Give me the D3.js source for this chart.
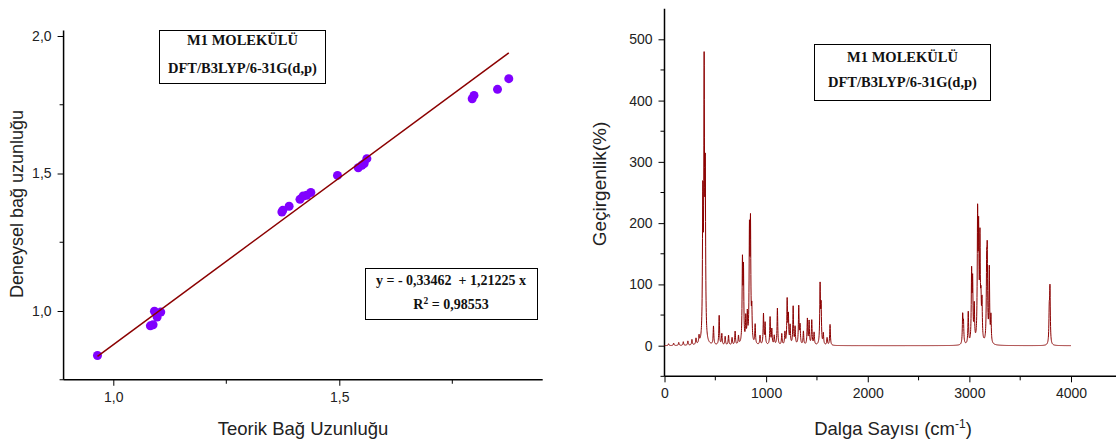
<!DOCTYPE html>
<html><head><meta charset="utf-8">
<script src="https://cdn.jsdelivr.net/npm/d3@7"></script>
<style>
html,body{margin:0;padding:0;background:#fff;}
svg{display:block;}
</style></head>
<body>
<script>
// ---------- Data: left chart (bond length correlation) ----------
const theoreticalLen = [0.965,1.082,1.088,1.091,1.097,1.105,1.373,1.375,1.389,1.413,1.420,1.428,1.437,1.496,1.542,1.550,1.555,1.561,1.794,1.798,1.850,1.875];
const experimentalLen = [0.838,0.946,0.950,0.999,0.978,0.996,1.360,1.366,1.381,1.406,1.418,1.421,1.431,1.493,1.521,1.530,1.536,1.554,1.772,1.784,1.806,1.845];
const fitIntercept = [-0.33462];
const fitSlope = [1.21225];
const leftXTicks = [1.0,1.5];
const leftXMinor = [1.25,1.75];
const leftYTicks = [1.0,1.5,2.0];
const leftYMinor = [0.75,1.25,1.75];
const boxTitle = ["M1 MOLEKÜLÜ","DFT/B3LYP/6-31G(d,p)"];

// ---------- Data: right chart (IR spectrum, peak list) ----------
const peakWavenumber = [40,90,140,185,230,270,310,340,
  377,390,401,
  482,538,564,597,630,665,695,728,
  767,777,800,815,836,846,859,892,
  940,974,990,1039,1056,1080,1111,1154,1185,
  1207,1219,1236,1266,1285,1321,1334,1367,1406,1423,1449,1472,1531,1541,1563,1600,1629,
  2934,2942,2989,3022,3032,3048,3081,3091,3104,3114,3124,3170,3176,3196,3212,3786,3793];
const peakIntensity = [3,4,5,6,7,9,10,12,
  225,430,258,
  30,48,18,14,16,12,22,14,
  130,115,40,45,175,185,50,32,
  15,50,35,45,25,15,60,18,20,
  72,45,30,62,28,62,30,22,42,38,40,20,95,60,18,12,34,
  46,33,52,112,95,58,200,165,160,58,62,110,130,120,43,50,88];
const specXTicks = [0,1000,2000,3000,4000];
const specXMinor = [500,1500,2500,3500];
const specYTicks = [0,100,200,300,400,500];
const specYMinor = [-50,50,150,250,350,450];

const W = 1116, H = 441;
const svg = d3.select("body").append("svg").attr("width",W).attr("height",H);
const sans = "'Liberation Sans', Arial, sans-serif";
const serif = "'Liberation Serif', 'Times New Roman', serif";

// ================= LEFT CHART =================
const xL = d3.scaleLinear().domain([1.0,1.5]).range([113.3,339.3]);
const yL = d3.scaleLinear().domain([1.0,1.5]).range([311,173.5]);
const lx0 = xL(0.89), lx1 = xL(1.95), ly0 = yL(0.75), ly1 = yL(2.02);
const fmtC = d => d3.format(".1f")(d).replace(".",",");

const gL = svg.append("g");
const xAxL = d3.axisBottom(xL).tickValues(leftXTicks).tickFormat(fmtC).tickSize(6).tickPadding(6);
const gxL = gL.append("g").attr("transform",`translate(0,${ly0})`).call(xAxL);
gxL.append("g").selectAll("line").data(leftXMinor).join("line")
  .attr("x1",d=>xL(d)).attr("x2",d=>xL(d)).attr("y1",0).attr("y2",4).attr("stroke","#000");
gxL.select(".domain").attr("d",`M${lx0},0H${lx1}`);
const yAxL = d3.axisLeft(yL).tickValues(leftYTicks).tickFormat(fmtC).tickSize(6).tickPadding(6);
const gyL = gL.append("g").attr("transform",`translate(${lx0},0)`).call(yAxL);
gyL.append("g").selectAll("line").data(leftYMinor).join("line")
  .attr("y1",d=>yL(d)).attr("y2",d=>yL(d)).attr("x1",0).attr("x2",-4).attr("stroke","#000");
gyL.select(".domain").attr("d",`M0,${ly0}V${ly1}`);
[gxL,gyL].forEach(g=>{
  g.selectAll(".domain").attr("stroke","#000").attr("stroke-width",1.5);
  g.selectAll("text").attr("font-family",sans).attr("font-size",14).attr("fill","#222");
});

gL.append("g").selectAll("circle").data(theoreticalLen).join("circle")
  .attr("cx",d=>xL(d)).attr("cy",(d,i)=>yL(experimentalLen[i])).attr("r",4.5).attr("fill","#8000ff");
const xr = d3.extent(theoreticalLen);
gL.append("line")
  .attr("x1",xL(xr[0])).attr("y1",yL(fitIntercept[0]+fitSlope[0]*xr[0]))
  .attr("x2",xL(xr[1])).attr("y2",yL(fitIntercept[0]+fitSlope[0]*xr[1]))
  .attr("stroke","#8b0000").attr("stroke-width",1.5);

svg.append("text").attr("x",303).attr("y",435).attr("text-anchor","middle")
  .attr("font-family",sans).attr("font-size",18.5).attr("fill","#222").text("Teorik Bağ Uzunluğu");
svg.append("text").attr("transform","translate(23,204) rotate(-90)").attr("text-anchor","middle")
  .attr("font-family",sans).attr("font-size",18).attr("fill","#222").text("Deneysel bağ uzunluğu");

function titleBox(x,y,w,h,cx,b1,b2,fs){
  svg.append("rect").attr("x",x).attr("y",y).attr("width",w).attr("height",h)
    .attr("fill","#fff").attr("stroke","#000").attr("stroke-width",1);
  svg.append("text").attr("x",cx).attr("y",b1).attr("text-anchor","middle").attr("font-family",serif)
    .attr("font-weight","bold").attr("font-size",fs).attr("fill","#111").text(boxTitle[0]);
  svg.append("text").attr("x",cx).attr("y",b2).attr("text-anchor","middle").attr("font-family",serif)
    .attr("font-weight","bold").attr("font-size",fs).attr("fill","#111").text(boxTitle[1]);
}
titleBox(159.5,30.5,166,53,242.5,45,73,14.5);

svg.append("rect").attr("x",365.5).attr("y",268.5).attr("width",172).attr("height",51)
  .attr("fill","#fff").attr("stroke","#000").attr("stroke-width",1);
const fmt5 = v => v.toFixed(5).replace(".",",");
svg.append("text").attr("x",451).attr("y",285).attr("text-anchor","middle").attr("font-family",serif)
  .attr("font-weight","bold").attr("font-size",14).attr("fill","#111").attr("xml:space","preserve")
  .text(`y = - ${fmt5(-fitIntercept[0])}  + ${fmt5(fitSlope[0])} x`);
const r2 = svg.append("text").attr("x",451).attr("y",309).attr("text-anchor","middle").attr("font-family",serif)
  .attr("font-weight","bold").attr("font-size",14).attr("fill","#111");
r2.append("tspan").text("R");
r2.append("tspan").attr("dy",-5).attr("font-size",9.5).text("2");
r2.append("tspan").attr("dy",5).text(" = 0,98553");

// ================= RIGHT CHART =================
const xR = d3.scaleLinear().domain([0,4000]).range([664.5,1071]);
const yR = d3.scaleLinear().domain([0,500]).range([345.7,39.3]);
const rx1 = W, ry0 = yR(-50), ry1 = yR(550);

const gR = svg.append("g");
const xAxR = d3.axisBottom(xR).tickValues(specXTicks).tickFormat(d3.format("d")).tickSize(6).tickPadding(6);
const gxR = gR.append("g").attr("transform",`translate(0,${ry0})`).call(xAxR);
gxR.append("g").selectAll("line").data(specXMinor).join("line")
  .attr("x1",d=>xR(d)).attr("x2",d=>xR(d)).attr("y1",0).attr("y2",4).attr("stroke","#000");
gxR.select(".domain").attr("d",`M${xR(0)},0H${rx1}`);
const yAxR = d3.axisLeft(yR).tickValues(specYTicks).tickFormat(d3.format("d")).tickSize(6).tickPadding(6);
const gyR = gR.append("g").attr("transform",`translate(${xR(0)},0)`).call(yAxR);
gyR.append("g").selectAll("line").data(specYMinor).join("line")
  .attr("y1",d=>yR(d)).attr("y2",d=>yR(d)).attr("x1",0).attr("x2",-4).attr("stroke","#000");
gyR.select(".domain").attr("d",`M0,${ry0}V${ry1}`);
[gxR,gyR].forEach(g=>{
  g.selectAll(".domain").attr("stroke","#000").attr("stroke-width",1.5);
  g.selectAll("text").attr("font-family",sans).attr("font-size",14).attr("fill","#222");
});

// spectrum: Lorentzian broadening of the read peak list
const hw = 4;
const specPts = [];
for(let w=0; w<=4000; w+=1){
  let s = 0;
  for(let k=0;k<peakWavenumber.length;k++){
    const t = (w-peakWavenumber[k])/hw;
    s += peakIntensity[k]/(1+t*t);
  }
  specPts.push([w,s]);
}
gR.append("path").datum(specPts)
  .attr("d",d3.line().x(d=>xR(d[0])).y(d=>yR(d[1])))
  .attr("fill","none").attr("stroke","#8b0000").attr("stroke-width",1);

svg.append("text").attr("transform","translate(606,184) rotate(-90)").attr("text-anchor","middle")
  .attr("font-family",sans).attr("font-size",19).attr("fill","#222").text("Geçirgenlik(%)");
const xt = svg.append("text").attr("x",893).attr("y",435).attr("text-anchor","middle")
  .attr("font-family",sans).attr("font-size",18.5).attr("fill","#222");
xt.append("tspan").text("Dalga Sayısı (cm");
xt.append("tspan").attr("dy",-7).attr("font-size",12).text("-1");
xt.append("tspan").attr("dy",7).text(")");

titleBox(814.5,44.5,176,56,902.5,62,87,14.5);
</script>
</body></html>
